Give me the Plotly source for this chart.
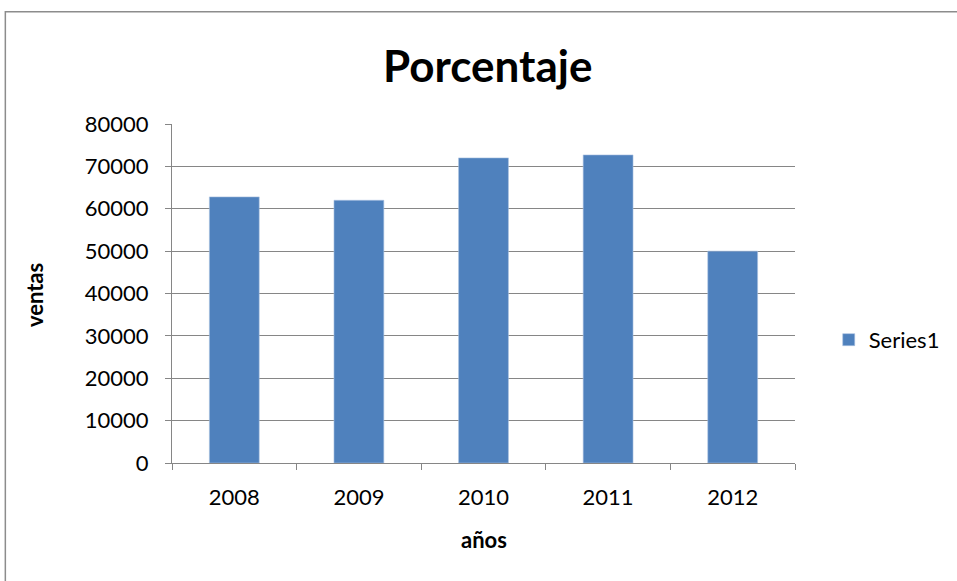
import plotly.graph_objects as go

years = ["2008", "2009", "2010", "2011", "2012"]
ventas = [62800, 62000, 72000, 72700, 50000]
y_ticks = [0, 10000, 20000, 30000, 40000, 50000, 60000, 70000, 80000]
series_name = "Series1"

FONT = "Lato, Liberation Sans, sans-serif"
GRID = "#868686"

# plot area (pixel coords): x 172..800, y 123.5..463.5
PX0, PX1, PY0, PY1 = 172, 800, 463.5, 123.5
PW, PH = PX1 - PX0, PY0 - PY1


def px(x):
    return (x - PX0) / PW


def py(y):
    return (PY0 - y) / PH


fig = go.Figure()
fig.add_trace(go.Bar(
    x=years, y=ventas, name=series_name,
    marker=dict(color="#4F81BD", line=dict(color="#A9C1E0", width=0.6)),
    width=0.4,
))

W, H = 957, 581
fig.update_layout(
    width=W, height=H,
    margin=dict(l=PX0, r=W - PX1, t=PY1, b=H - PY0),
    paper_bgcolor="white", plot_bgcolor="white",
    font=dict(family=FONT, size=22, color="black"),
    showlegend=True,
    legend=dict(x=px(834), y=py(340), xanchor="left", yanchor="middle",
                font=dict(family=FONT, size=22, color="black"), itemwidth=30),
)

fig.update_xaxes(
    type="category", showline=True, linecolor=GRID, linewidth=1.3,
    ticks="outside", tickson="boundaries", ticklen=6, tickcolor=GRID,
    showgrid=False, tickfont=dict(family=FONT, size=22, color="black"), ticklabelstandoff=14,
)
fig.update_yaxes(
    range=[0, 80000], tickvals=y_ticks, ticktext=[str(v) for v in y_ticks],
    showline=True, linecolor=GRID, linewidth=1.3,
    ticks="outside", ticklen=6, tickcolor=GRID,
    showgrid=True, gridcolor=GRID, gridwidth=1.3, zeroline=False,
    tickfont=dict(family=FONT, size=22, color="black"), ticklabelstandoff=12,
)

fig.add_annotation(text="<b>Porcentaje</b>", xref="paper", yref="paper",
                   x=px(490), y=py(64), showarrow=False,
                   font=dict(family=FONT, size=44, color="black"),
                   xanchor="center", yanchor="middle")
fig.add_annotation(text="<b>años</b>", xref="paper", yref="paper",
                   x=px(487), y=py(540), showarrow=False,
                   font=dict(family=FONT, size=22, color="black"),
                   xanchor="center", yanchor="middle")
fig.add_annotation(text="<b>ventas</b>", xref="paper", yref="paper",
                   x=px(34), y=py(295), showarrow=False, textangle=-90,
                   font=dict(family=FONT, size=22, color="black"),
                   xanchor="center", yanchor="middle")

fig.add_shape(type="rect", xref="paper", yref="paper",
              x0=px(4), x1=px(990), y0=py(620), y1=py(11),
              line=dict(color="#8C8C8C", width=1.5), layer="below")

fig.write_html("out.html", config={"displayModeBar": False},
               post_script="document.body.style.margin='0';")
